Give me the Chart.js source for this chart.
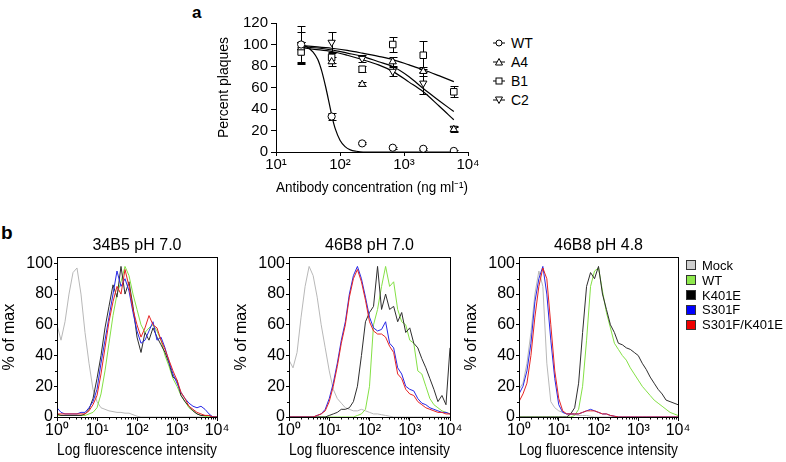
<!DOCTYPE html>
<html>
<head>
<meta charset="utf-8">
<script src="https://cdn.jsdelivr.net/npm/chart.js@4.4.0/dist/chart.umd.min.js"></script>
<style>
  body { margin: 0; width: 786px; height: 462px; background: #fff; position: relative; overflow: hidden;
         font-family: "Liberation Sans", Arial, sans-serif; color: #000; }
  canvas { position: absolute; }
  .panel { position: absolute; font-weight: bold; line-height: 1; }
  .legA { position: absolute; left: 493px; top: 33px; font-size: 14px; }
  .legA div { height: 19px; display: flex; align-items: center; }
  .legA span { margin-left: 5px; }
  .legB { position: absolute; left: 686px; top: 258px; font-size: 13px; }
  .legB div { height: 14.8px; display: flex; align-items: center; }
  .legB i { display: inline-block; width: 8px; height: 8px; border: 1px solid #333; }
  .legB span { margin-left: 6px; }
</style>
</head>
<body>
<div class="panel" style="left:192px; top:4px; font-size:17px;">a</div>
<div class="panel" style="left:1px; top:223px; font-size:19px;">b</div>

<canvas id="cA" width="280" height="192" style="left:200px; top:5px;"></canvas>
<canvas id="cB1" width="274" height="232" style="left:0px; top:230px;"></canvas>
<canvas id="cB2" width="275" height="232" style="left:232px; top:230px;"></canvas>
<canvas id="cB3" width="273" height="232" style="left:462px; top:230px;"></canvas>

<div class="legA" id="legA"></div>
<div class="legB" id="legB"></div>

<script>
// ---- panel a: plaque reduction ----
const aConc = [24.7, 74, 222, 667, 2000, 6000];
const wtPct = [100, 33, 8, 4, 3, 1];
const a4Pct = [97, 84, 63, 84, 75, 21];
const b1Pct = [93, 88, 77, 100, 90, 56];
const c2Pct = [100, 102, 87, 75, 64, 22];
const wtErr = [2, 3, 1, 1, 1, 1];
const a4Err = [15, 4, 2, 4, 4, 2];
const b1Err = [9, 5, 3, 7, 13, 5];
const c2Err = [17, 10, 3, 4, 10, 2];

// fitted curves
const wtFitConc = [24.7, 30, 38, 45, 52, 60, 68, 75, 85, 100, 120, 145, 180, 230, 400, 6000];
const wtFit = [99, 98, 93, 86, 75, 60, 45, 33, 21, 11, 5, 2, 0.7, 0, 0, 0];
const fitConc = [24.7, 40, 74, 130, 222, 400, 667, 1200, 2000, 3500, 6000];
const b1Fit = [99, 98, 96.5, 94.5, 92, 89, 86, 81, 76.5, 71, 65.5];
const a4Fit = [98, 97, 95, 92, 89, 84, 79.5, 70, 59, 48, 37.6];
const c2Fit = [97, 95.5, 93.5, 90, 86, 81, 75, 65, 56, 43, 30];

const aNames = ['WT', 'A4', 'B1', 'C2'];
const aDecades = [10, 100, 1000, 10000];
const aYTicks = [0, 20, 40, 60, 80, 100, 120];

// ---- panel b: flow histograms ----
const fluor = [1, 1.259, 1.585, 1.995, 2.512, 3.162, 3.981, 5.012, 6.31, 7.943,
  10, 12.59, 15.85, 19.95, 25.12, 31.62, 39.81, 50.12, 63.1, 79.43,
  100, 125.9, 158.5, 199.5, 251.2, 316.2, 398.1, 501.2, 631, 794.3,
  1000, 1259, 1585, 1995, 2512, 3162, 3981, 5012, 6310, 7943,
  10000];

const mock1 = [60,50,62,80,94,97,80,55,35,18, 10,6,5,4,3.5,3,3,2.5,2.5,1.5, 0.5,0,0,0,0,0,0,0,0,0, 0,0,0,0,0,0,0,0,0,0, 0];
const wt1 = [1,1,1,1,1,1,1,1,2,3, 6,15,30,48,66,80,88,98,92,80, 70,60,55,58,60,56,50,40,33,25, 20,14,10,6,4,2,1,0.5,0,0, 0];
const k401e1 = [2,1,1,1,1,1,1,2,5,12, 25,40,58,72,86,78,98,80,88,72, 52,42,55,50,58,52,47,42,35,26, 24,14,10,7,4,2,1,1,1,0, 0];
const s301f1 = [6,3,2,2,2,2,3,3,6,10, 18,35,50,65,80,95,85,90,82,68, 56,48,50,56,62,50,52,45,36,28, 22,16,12,9,7,6,7,5,2,0, 0];
const dbl1 = [2,2,2,2,2,2,2,2,4,8, 14,28,45,62,75,85,80,96,85,70, 60,52,58,66,60,58,50,44,37,30, 24,16,12,7,5,3,2,1,1,0, 0];

const mock2 = [37,32,42,65,85,98,92,78,60,45, 30,18,12,9,6,5,4,4,5,4, 3,2,2,1.5,1,0.5,0,0,0,0, 0,0,0,0,0,0,0,0,0,0, 0];
const wt2 = [0,0,0,0,0,0,0,0,0,0, 0,0,0,0,0,0,0,1,2,5, 20,60,70,85,98,85,88,70,62,60, 50,48,30,28,20,12,8,6,4,3, 2];
const k401e2 = [0,0,0,0,0,0,0,0,0,0, 1,2,3,5,5,6,10,20,40,62, 68,72,98,70,80,70,72,62,68,55, 58,48,45,38,32,25,18,10,14,8, 45];
const s301f2 = [0,0,0,0,0,0,0,1,2,5, 12,22,35,50,62,80,92,98,90,78, 65,58,56,57,62,48,45,32,28,20, 18,17,12,9,8,6,5,4,3,3, 2];
const dbl2 = [0,0,0,0,0,0,0,1,2,4, 10,20,33,48,60,78,90,96,88,76, 62,56,54,54,52,46,42,28,25,18, 15,14,10,8,6,5,4,3,3,2, 2];

const mock3 = [18,22,35,55,80,95,85,35,10,6, 4,3,2,2,1.5,1,1,1,0.5,0, 0,0,0,0,0,0,0,0,0,0, 0,0,0,0,0,0,0,0,0,0, 0];
const wt3 = [0,0,0,0,0,0,0,0,0,0, 0,0,0,0,1,5,20,50,85,95, 97,82,68,58,48,44,40,37,32,28, 24,20,17,14,11,9,7,5,3,2, 1];
const k401e3 = [0,0,0,0,0,0,0,0,0,0, 0,0,0,2,6,22,55,85,94,90, 98,80,70,60,55,48,47,45,44,42, 40,35,31,26,22,18,15,11,10,9, 8];
const s301f3 = [15,20,30,48,75,90,98,80,50,25, 8,3,2,2,2,2,3,4,5,4, 3,2,2,1,0.5,0,0,0,0,0, 0,0,0,0,0,0,0,0,0,0, 0];
const dbl3 = [10,15,22,40,65,85,97,90,60,30, 12,4,2,2,2,2,3,4,4,4, 3,2,2,1,0.5,0,0,0,0,0, 0,0,0,0,0,0,0,0,0,0, 0];

const bNames = ['Mock', 'WT', 'K401E', 'S301F', 'S301F/K401E'];
const lineColors = ['#b8b8b8', '#84e045', '#2e2e2e', '#2828e6', '#e62424'];
const boxColors = ['#cfcfcf', '#8ee84c', '#000000', '#0000ff', '#ee0000'];
const bTitles = ['34B5 pH 7.0', '46B8 pH 7.0', '46B8 pH 4.8'];
const bDecades = [1, 10, 100, 1000, 10000];
const bYTicks = [0, 20, 40, 60, 80, 100];
const bYMinor = [10, 30, 50, 70, 90];

const FONT = '"Liberation Sans", Arial, sans-serif';
Chart.defaults.font.family = FONT;
Chart.defaults.color = '#000';
Chart.defaults.animation = false;
Chart.defaults.responsive = false;
Chart.defaults.devicePixelRatio = 1;
Chart.defaults.plugins.legend.display = false;
Chart.defaults.plugins.tooltip.enabled = false;

const SUPS = ['⁰', '¹', '²', '³', '⁴'];
const decadeLabel = v => '10' + SUPS[Math.round(Math.log10(v))];
const pts = (xs, ys) => xs.map((x, i) => ({ x: x, y: ys[i] }));

// minor ticks on log axis: 2..9 of each decade
const bXMinor = [];
for (let d = 1; d < 10000; d *= 10) {
  for (let m = 2; m <= 9; m++) bXMinor.push(m * d);
}

const errorBars = {
  id: 'errorBars',
  beforeDatasetsDraw(chart) {
    const { ctx, scales: { x, y } } = chart;
    ctx.save();
    ctx.strokeStyle = '#000';
    ctx.lineWidth = 1;
    chart.data.datasets.forEach(ds => {
      if (!ds.errors) return;
      ds.data.forEach((p, i) => {
        const e = ds.errors[i];
        if (!e) return;
        const px = Math.round(x.getPixelForValue(p.x)) + 0.5;
        const top = Math.round(y.getPixelForValue(p.y + e)) + 0.5;
        const bot = Math.round(y.getPixelForValue(p.y - e)) + 0.5;
        ctx.beginPath();
        ctx.moveTo(px, top); ctx.lineTo(px, bot);
        ctx.moveTo(px - 4, top); ctx.lineTo(px + 4, top);
        ctx.moveTo(px - 4, bot); ctx.lineTo(px + 4, bot);
        ctx.stroke();
      });
    });
    ctx.restore();
  }
};

const frame = {
  id: 'frame',
  afterDraw(chart, args, opts) {
    const { ctx, chartArea: a, scales: { x, y } } = chart;
    ctx.save();
    ctx.strokeStyle = '#000';
    ctx.lineWidth = 1;
    ctx.strokeRect(Math.round(a.left) + 0.5, Math.round(a.top) + 0.5,
      Math.round(a.right - a.left), Math.round(a.bottom - a.top));
    ctx.beginPath();
    (opts.minorX || []).forEach(v => {
      const px = Math.round(x.getPixelForValue(v)) + 0.5;
      ctx.moveTo(px, a.bottom); ctx.lineTo(px, a.bottom + 2.5);
    });
    (opts.minorY || []).forEach(v => {
      const py = Math.round(y.getPixelForValue(v)) + 0.5;
      ctx.moveTo(a.left, py); ctx.lineTo(a.left - 2, py);
    });
    ctx.stroke();
    ctx.restore();
  }
};

// ---- chart a ----
const markerSet = (label, ys, errs, style, r, rot) => ({
  label: label, data: pts(aConc, ys), errors: errs, showLine: false,
  pointStyle: style, pointRadius: r, pointRotation: rot || 0,
  pointBackgroundColor: '#fff', pointBorderColor: '#000', pointBorderWidth: 1, order: 1
});
const fitSet = (xs, ys) => ({
  data: pts(xs, ys), borderColor: '#000', borderWidth: 1.2, pointRadius: 0,
  cubicInterpolationMode: 'monotone', fill: false, order: 2
});

new Chart(document.getElementById('cA'), {
  type: 'line',
  data: {
    datasets: [
      markerSet('WT', wtPct, wtErr, 'circle', 3.6),
      markerSet('A4', a4Pct, a4Err, 'triangle', 4.2),
      markerSet('B1', b1Pct, b1Err, 'rect', 4.6),
      markerSet('C2', c2Pct, c2Err, 'triangle', 4.2, 180),
      fitSet(wtFitConc, wtFit),
      fitSet(fitConc, b1Fit),
      fitSet(fitConc, a4Fit),
      fitSet(fitConc, c2Fit)
    ]
  },
  options: {
    layout: { padding: { top: 18, right: 12, left: 0, bottom: 0 } },
    scales: {
      x: {
        type: 'logarithmic', min: 10, max: 10000,
        afterBuildTicks: s => { s.ticks = aDecades.map(v => ({ value: v })); },
        ticks: { callback: decadeLabel, font: { size: 15 }, padding: 0, maxRotation: 0, autoSkip: false },
        grid: { drawOnChartArea: false, tickLength: 4, tickColor: '#000' },
        border: { color: '#000' },
        title: { display: true, text: 'Antibody concentration (ng ml⁻¹)', font: { size: 14 }, padding: 0 },
        afterFit: s => { s.height = 45; }
      },
      y: {
        min: 0, max: 120,
        afterBuildTicks: s => { s.ticks = aYTicks.map(v => ({ value: v })); },
        ticks: { font: { size: 15 }, padding: 3 },
        grid: { drawOnChartArea: false, tickLength: 5, tickColor: '#000' },
        border: { color: '#000' },
        title: { display: true, text: 'Percent plaques', font: { size: 14 }, padding: { top: 15.6 } },
        afterFit: s => { s.width = 76; }
      }
    }
  },
  plugins: [errorBars]
});

// ---- charts b ----
function histChart(id, title, series) {
  new Chart(document.getElementById(id), {
    type: 'line',
    data: {
      datasets: series.map((ys, k) => ({
        label: bNames[k], data: pts(fluor, ys), borderColor: lineColors[k],
        borderWidth: 1, pointRadius: 0, tension: 0, fill: false, order: 5 - k
      }))
    },
    options: {
      layout: { padding: { bottom: 1 } },
      plugins: {
        title: { display: true, text: title, font: { size: 16, weight: 'normal' }, color: '#000', padding: { top: 6, bottom: 2 } },
        frame: { minorX: bXMinor, minorY: bYMinor }
      },
      scales: {
        x: {
          type: 'logarithmic', min: 1, max: 10000,
          afterBuildTicks: s => { s.ticks = bDecades.map(v => ({ value: v })); },
          ticks: { callback: decadeLabel, font: { size: 16 }, padding: 0, maxRotation: 0, autoSkip: false },
          grid: { drawOnChartArea: false, tickLength: 4, tickColor: '#000' },
          border: { display: false },
          title: { display: true, text: 'Log fluorescence intensity', font: { size: 16 }, padding: { top: 0, bottom: 1 } },
          afterFit: s => { s.height = 44; }
        },
        y: {
          min: 0, max: 104,
          afterBuildTicks: s => { s.ticks = bYTicks.map(v => ({ value: v })); },
          ticks: { font: { size: 16 }, padding: 1 },
          grid: { drawOnChartArea: false, tickLength: 3, tickColor: '#000' },
          border: { display: false },
          title: { display: true, text: '% of max', font: { size: 16 }, padding: 0 },
          afterFit: s => { s.width = 57; }
        },
        y2: {
          position: 'right', display: true,
          grid: { display: false }, ticks: { display: false }, border: { display: false },
          afterFit: s => { s.width = 57; }
        }
      }
    },
    plugins: [frame]
  });
}

histChart('cB1', bTitles[0], [mock1, wt1, k401e1, s301f1, dbl1]);
histChart('cB2', bTitles[1], [mock2, wt2, k401e2, s301f2, dbl2]);
histChart('cB3', bTitles[2], [mock3, wt3, k401e3, s301f3, dbl3]);

// ---- legends ----
const markerSvg = [
  '<circle cx="6" cy="5" r="3" fill="#fff" stroke="#000"/>',
  '<polygon points="6,1.5 9.5,8 2.5,8" fill="#fff" stroke="#000"/>',
  '<rect x="3" y="2" width="6" height="6" fill="#fff" stroke="#000"/>',
  '<polygon points="2.5,2 9.5,2 6,8.5" fill="#fff" stroke="#000"/>'
];
document.getElementById('legA').innerHTML = aNames.map((n, i) =>
  '<div><svg width="13" height="10"><line x1="0" y1="5" x2="12" y2="5" stroke="#000"/>' +
  markerSvg[i] + '</svg><span>' + n + '</span></div>').join('');
document.getElementById('legB').innerHTML = bNames.map((n, i) =>
  '<div><i style="background:' + boxColors[i] + '"></i><span>' + n + '</span></div>').join('');
</script>
</body>
</html>
